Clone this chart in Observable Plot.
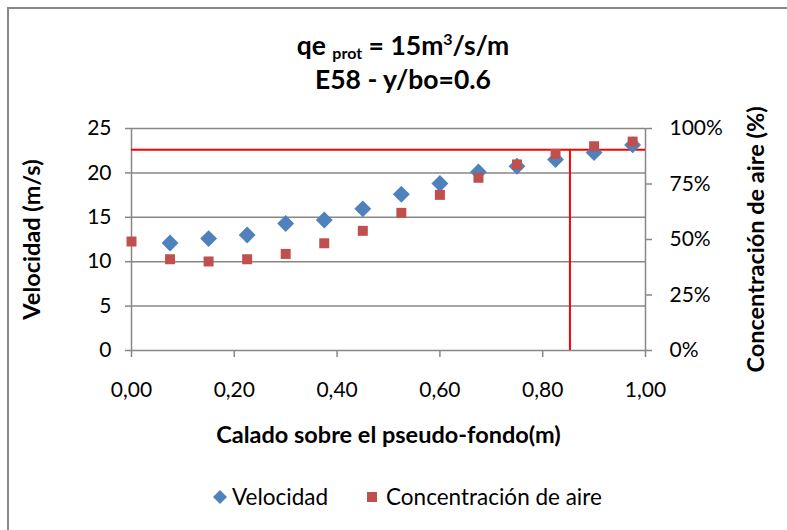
<!DOCTYPE html>
<html>
<head>
<meta charset="utf-8">
<script src="https://cdn.jsdelivr.net/npm/d3@7"></script>
<script src="https://cdn.jsdelivr.net/npm/@observablehq/plot@0.6"></script>
<style>
  html, body { margin: 0; padding: 0; background: #fff; }
  #wrap { position: relative; width: 787px; height: 530px; overflow: hidden; font-family: Lato, "Open Sans", sans-serif; }
  #frame { position: absolute; left: 7px; top: 7px; width: 800px; height: 560px; border: 2px solid #888; box-sizing: border-box; }
  #chart { position: absolute; left: 0; top: 0; }
  #title { position: absolute; left: 0; width: 806px; top: 28px; text-align: center; font-weight: bold; font-size: 26.5px; line-height: 34px; color: #000; }
  #title sub { font-size: 16px; vertical-align: -4px; line-height: 0; }
  #title sup { font-size: 16px; vertical-align: 10px; line-height: 0; }
  #legend { position: absolute; top: 483px; left: 212px; font-size: 22.5px; color: #000; display: flex; align-items: center; }
  #legend span.item { display: inline-flex; align-items: center; }
  g[aria-label="y-axis label"] text, g[aria-label="x-axis label"] text { font-weight: bold; font-size: 23.5px; }
</style>
</head>
<body>
<div id="wrap">
  <div id="frame"></div>
  <div id="chart"></div>
  <div id="title">qe <sub>prot</sub> = 15m<sup>3</sup>/s/m<br>E58 - y/bo=0.6</div>
  <div id="legend">
    <span class="item"><svg width="16" height="16"><path d="M8,1L15,8L8,15L1,8Z" fill="#4F81BD"/></svg><span style="margin-left:4px">Velocidad</span></span>
    <span class="item" style="margin-left:38px"><svg width="12" height="12"><rect x="1" y="1" width="10" height="10" fill="#C0504D"/></svg><span style="margin-left:8px">Concentración de aire</span></span>
  </div>
</div>
<script>
// Data
const caladoVel = [0.075, 0.15, 0.225, 0.30, 0.375, 0.45, 0.525, 0.60, 0.675, 0.75, 0.825, 0.90, 0.975];
const velocidad = [12.1, 12.6, 13.0, 14.3, 14.7, 15.95, 17.6, 18.8, 20.1, 20.75, 21.5, 22.3, 23.15];
const caladoConc = [0.0, 0.075, 0.15, 0.225, 0.30, 0.375, 0.45, 0.525, 0.60, 0.675, 0.75, 0.825, 0.90, 0.975];
const concentracion = [49.1, 41.1, 40.1, 41.1, 43.5, 48.3, 53.9, 62.0, 70.1, 77.8, 83.8, 88.6, 92.0, 94.1];
const velTicks = [0, 5, 10, 15, 20, 25];
const pctTicks = [0, 25, 50, 75, 100];
const xTicks = [0, 0.2, 0.4, 0.6, 0.8, 1.0];
const limiteVelocidad = 22.6;   // horizontal red line (m/s)
const limiteCalado = 0.853;     // vertical red line (m)

const velData = caladoVel.map((x, i) => ({x, v: velocidad[i]}));
const concData = caladoConc.map((x, i) => ({x, c: concentracion[i]}));
const pctToVel = p => p * 25 / 100;
const gray = "#878787";

const chart = Plot.plot({
  width: 787, height: 530,
  marginLeft: 131, marginRight: 142, marginTop: 128, marginBottom: 180,
  x: {domain: [0, 1]},
  y: {domain: [0, 25]},
  style: {fontFamily: "Lato, 'Open Sans', sans-serif", fontSize: "21px", color: "#000", background: "transparent", overflow: "visible"},
  marks: [
    Plot.gridY(velTicks, {stroke: gray, strokeOpacity: 1, strokeWidth: 1.5}),
    Plot.ruleX([0, 1], {stroke: gray, strokeWidth: 1.5}),
    Plot.axisY(velTicks, {anchor: "left", tickSize: 6, tickPadding: 14, stroke: gray, strokeWidth: 1.5,
      label: "Velocidad (m/s)", labelAnchor: "center", labelArrow: "none", labelOffset: 108}),
    Plot.axisY(pctTicks.map(pctToVel), {anchor: "right", tickSize: 6, tickPadding: 18, stroke: gray, strokeWidth: 1.5,
      tickFormat: d => Math.round(d * 4) + "%",
      label: "Concentración de aire (%)", labelAnchor: "center", labelArrow: "none", labelOffset: 118}),
    Plot.axisX(xTicks, {anchor: "bottom", tickSize: 7, tickPadding: 25, stroke: gray, strokeWidth: 1.5,
      tickFormat: d => d.toFixed(2).replace(".", ","),
      label: "Calado sobre el pseudo-fondo(m)", labelAnchor: "center", labelArrow: "none", labelOffset: 92}),
    Plot.ruleY([limiteVelocidad], {x1: 0, x2: 1, stroke: "#FF0000", strokeWidth: 2}),
    Plot.ruleX([limiteCalado], {y1: 0, y2: limiteVelocidad, stroke: "#FF0000", strokeWidth: 2}),
    Plot.dot(velData, {x: "x", y: "v", symbol: "diamond2", r: 7.6, fill: "#4F81BD", stroke: null}),
    Plot.dot(concData, {x: "x", y: d => pctToVel(d.c), symbol: "square", r: 5.64, fill: "#C0504D", stroke: null})
  ]
});
document.getElementById("chart").appendChild(chart);
</script>
</body>
</html>
